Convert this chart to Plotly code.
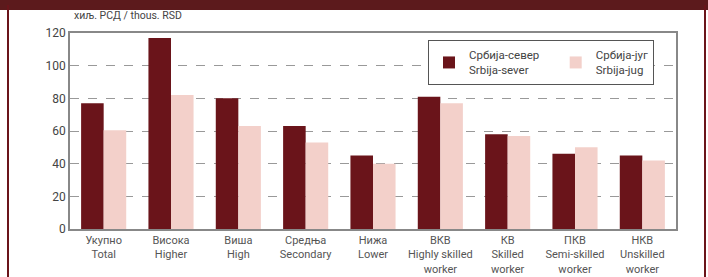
import plotly.graph_objects as go

categories = ["Укупно<br>Total", "Висока<br>Higher", "Виша<br>High", "Средња<br>Secondary",
              "Нижа<br>Lower", "ВКВ<br>Highly skilled<br>worker", "КВ<br>Skilled<br>worker",
              "ПКВ<br>Semi-skilled<br>worker", "НКВ<br>Unskilled<br>worker"]
sever = [77, 117, 80, 63, 45, 81, 58, 46, 45]
jug = [60.5, 82, 63, 53, 40, 77, 57, 50, 42]
y_ticks = [0, 20, 40, 60, 80, 100, 120]

DARK = "#6a141a"
LIGHT = "#f3d0ca"
FONT = "Liberation Sans Narrow, Roboto, sans-serif"

L, R, T, B = 70, 32, 33, 48
PW, PH = 708 - L - R, 277 - T - B

def px(x):
    return (x - L) / PW

def py(y):
    return (277 - B - y) / PH

NB = "\u00a0"
fig = go.Figure()
fig.add_trace(go.Bar(x=categories, y=sever, name="Србија-север" + NB * 4 + "<br>Srbija-sever",
                     marker=dict(color=DARK, line=dict(width=0))))
fig.add_trace(go.Bar(x=categories, y=jug, name="Србија-југ<br>Srbija-jug",
                     marker=dict(color=LIGHT, line=dict(width=0))))

fig.update_layout(
    width=708, height=277,
    margin=dict(l=L, r=R, t=T, b=B, autoexpand=False),
    paper_bgcolor="white", plot_bgcolor="white",
    barmode="group", bargap=0.33, bargroupgap=0,
    font=dict(family=FONT, size=12, color="#444"),
    showlegend=True,
    legend=dict(orientation="h", x=px(428), y=py(40), xanchor="left", yanchor="top",
                bordercolor="#555", borderwidth=1, bgcolor="white",
                font=dict(size=11.5, color="#444"), itemwidth=30),
    xaxis=dict(showline=True, linecolor="#888", linewidth=1.5, mirror=True,
               ticks="", tickfont=dict(size=11, color="#555"), automargin=False,
               ticklabelstandoff=0),
    yaxis=dict(range=[0, 120], tickvals=y_ticks, showline=True, linecolor="#888",
               linewidth=1.5, mirror=True, showgrid=True, gridcolor="#999",
               griddash="dash", gridwidth=1, ticks="", zeroline=False,
               tickfont=dict(size=12, color="#444"), automargin=False),
    annotations=[dict(text="хиљ. РСД / thous. RSD", xref="paper", yref="paper",
                      x=px(72), y=py(24), xanchor="left", yanchor="bottom",
                      showarrow=False, font=dict(size=10.5, color="#444"))],
)

fig.add_shape(type="rect", xref="paper", yref="paper", x0=px(-5), x1=px(715),
              y0=py(10), y1=py(-5), fillcolor="#5c1a1c", line=dict(width=0))
fig.add_shape(type="line", xref="paper", yref="paper", x0=px(8), x1=px(8),
              y0=py(285), y1=py(5), line=dict(color="#6a141a", width=2))
fig.add_shape(type="line", xref="paper", yref="paper", x0=px(705), x1=px(705),
              y0=py(285), y1=py(5), line=dict(color="#6a141a", width=2))

fig.write_html("out.html", config={"displayModeBar": False},
               post_script="document.body.style.margin='0';document.body.style.overflow='hidden';")
